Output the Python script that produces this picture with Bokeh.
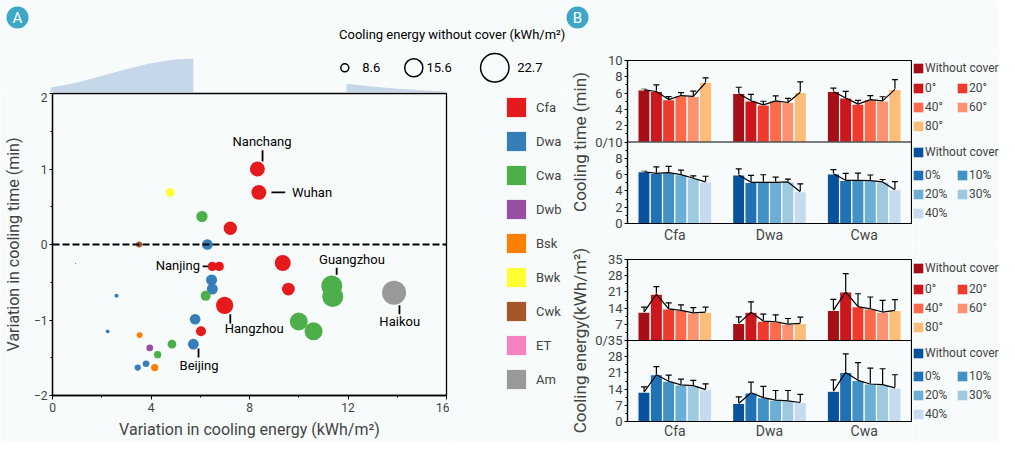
from bokeh.plotting import figure
from bokeh.layouts import row, column
from bokeh.models import (Range1d, Legend, LegendItem, Span, FixedTicker,
                          ColumnDataSource, Whisker, TeeHead)
from bokeh.core.properties import value
from bokeh.embed import file_html
from bokeh.resources import INLINE

BG = "#f7fbfc"
FONT = "Roboto"
BADGE = "#3ea7c6"
NAN = float("nan")

# ---------------- Panel A data ----------------
climates = ["Cfa", "Dwa", "Cwa", "Dwb", "Bsk", "Bwk", "Cwk", "ET", "Am"]
climate_colors = ["#e41a1c", "#377eb8", "#4daf4a", "#984ea3", "#ff7f00",
                  "#ffff33", "#a65628", "#f781bf", "#999999"]

pt_climate = ["Cfa", "Cfa", "Bwk", "Cwa", "Cfa", "Cwk", "Dwa", "Cwk", "Cfa", "Cfa",
              "Cfa", "Cwa", "Cwa", "Am", "Dwa", "Dwa", "Dwa", "Cwa", "Cfa", "Cfa",
              "Dwa", "Cwa", "Cwa", "Cfa", "Dwa", "Bsk", "Dwb", "Cwa", "Cwa", "Dwa",
              "Dwa", "Dwa", "Bsk"]
pt_energy_var = [8.32, 8.38, 4.78, 6.07, 7.22, 3.52, 6.29, 0.94, 6.49, 6.77,
                 9.35, 11.34, 11.38, 13.87, 2.60, 6.46, 6.49, 6.22, 9.58, 6.99,
                 5.79, 10.00, 10.60, 6.03, 2.24, 3.54, 3.95, 4.85, 4.27, 5.72,
                 3.80, 3.46, 4.15]
pt_time_var = [1.00, 0.69, 0.69, 0.37, 0.215, 0.0, 0.0, -0.25, -0.29, -0.29,
               -0.245, -0.55, -0.69, -0.64, -0.68, -0.47, -0.59, -0.68, -0.59, -0.805,
               -0.99, -1.02, -1.15, -1.15, -1.15, -1.20, -1.37, -1.32, -1.46, -1.32,
               -1.58, -1.63, -1.63]
pt_energy_base = [13.4, 13.4, 9.1, 10.9, 12.3, 7.2, 10.5, 3.8, 9.5, 9.5,
                  14.1, 17.6, 17.6, 19.7, 5.9, 10.7, 10.7, 10.0, 11.9, 15.0,
                  10.5, 15.5, 15.5, 10.0, 5.7, 7.2, 7.7, 9.1, 8.1, 10.5,
                  7.7, 7.4, 8.1]

size_legend_values = [8.6, 15.6, 22.7]

dens_left_x = [0, 1, 2, 3, 4, 5, 5.77]
dens_left = [0.05, 0.095, 0.16, 0.23, 0.29, 0.33, 0.337]
dens_right_x = [11.96, 13, 14, 15, 16]
dens_right = [0.087, 0.06, 0.038, 0.022, 0.01]

x_ticks_a = [0, 4, 8, 12, 16]
x_minor_a = [2, 6, 10, 14]
y_ticks_a = [-2, -1, 0, 1, 2]
y_minor_a = [-1.5, -0.5, 0.5, 1.5]

# city annotations (text x, text y, leader x0, y0, x1, y1)
city_names = ["Nanchang", "Wuhan", "Nanjing", "Guangzhou", "Hangzhou", "Haikou", "Beijing"]
city_align = ["center", "left", "right", "center", "center", "center", "center"]
city_tx = [8.51, 9.73, 5.99, 12.16, 8.19, 14.10, 5.95]
city_ty = [1.364, 0.69, -0.277, -0.198, -1.113, -1.026, -1.607]
lead_x0 = [8.53, 8.89, 6.10, 11.54, 7.22, 14.09, 5.93]
lead_y0 = [1.25, 0.69, -0.29, -0.308, -0.924, -0.805, -1.377]
lead_x1 = [8.53, 9.45, 6.49, 11.54, 7.22, 14.09, 5.93]
lead_y1 = [1.10, 0.69, -0.29, -0.40, -1.047, -0.924, -1.496]

# ---------------- Panel B data ----------------
groups = ["Cfa", "Dwa", "Cwa"]
angle_labels = ["Without cover", "0°", "20°", "40°", "60°", "80°"]
cover_labels = ["Without cover", "0%", "10%", "20%", "30%", "40%"]
reds = ["#a50f15", "#cb181d", "#ef3b2c", "#fb6a4a", "#fc9272", "#fbbd78"]
blues = ["#08519c", "#2171b5", "#4292c6", "#6baed6", "#9ecae1", "#c6dbef"]

time_angle = [[6.4, 6.2, 5.2, 5.7, 5.6, 7.3],
              [5.95, 5.05, 4.55, 5.05, 4.85, 6.1],
              [6.2, 5.4, 4.65, 5.2, 5.05, 6.45]]
time_angle_err = [[0.05, 0.8, 0.36, 0.35, 0.65, 0.57],
                  [0.77, 0.8, 0.45, 0.6, 0.5, 1.27],
                  [0.42, 0.8, 0.45, 0.5, 0.5, 1.2]]
time_cover = [[6.35, 6.15, 6.25, 6.0, 5.55, 5.1],
              [5.95, 5.05, 5.05, 5.05, 5.1, 3.9],
              [6.1, 5.3, 5.3, 5.25, 5.1, 4.15]]
time_cover_err = [[0.05, 0.8, 0.75, 0.55, 0.3, 0.7],
                  [0.75, 0.85, 0.93, 0.65, 0.35, 0.97],
                  [0.5, 0.85, 0.87, 0.7, 0.3, 1.0]]
energy_angle = [[12.3, 20.0, 13.7, 13.0, 11.9, 12.3],
                [7.4, 12.2, 8.4, 8.1, 7.1, 7.4],
                [13.0, 21.0, 14.6, 13.7, 12.3, 13.0]]
energy_angle_err = [[2.1, 3.3, 2.6, 2.4, 2.3, 2.1],
                    [2.8, 4.5, 3.0, 3.0, 2.4, 2.7],
                    [4.8, 7.9, 5.6, 5.1, 5.0, 4.7]]
energy_cover = [[12.7, 20.2, 17.4, 15.8, 15.5, 13.8],
                [7.8, 12.4, 10.3, 9.2, 8.9, 8.2],
                [13.1, 21.2, 17.8, 16.2, 15.9, 14.5]]
energy_cover_err = [[2.3, 3.5, 2.6, 2.5, 2.3, 2.5],
                    [2.8, 4.6, 4.9, 4.2, 4.5, 3.5],
                    [4.9, 8.0, 7.6, 6.9, 6.9, 5.7]]


def bubble_size(e):
    return 1.45 * e - 4.5


def style(p):
    p.background_fill_color = BG
    p.border_fill_color = BG
    p.xgrid.visible = False
    p.ygrid.visible = False
    return p


def blank_fig(width, height, top=0, bottom=0):
    p = figure(width=width, height=height, output_backend="svg", toolbar_location=None,
               x_range=Range1d(0, 1), y_range=Range1d(0, 1),
               x_axis_location=None, y_axis_location=None,
               min_border_left=0, min_border_right=0,
               min_border_top=top, min_border_bottom=bottom,
               outline_line_color=None)
    return style(p)


LW, RW = 565, 434
A_LEFT, A_FW, A_TOP, A_FH, A_RIGHT = 50, 396, 1, 303, 3
PXX = A_FW / 16.0

# ---------------- header A ----------------
HA_H = 92
hA = figure(width=LW, height=HA_H, output_backend="svg", toolbar_location=None,
            x_range=Range1d(-A_LEFT / PXX, (LW - A_LEFT) / PXX), y_range=Range1d(0, 0.92),
            x_axis_location=None, y_axis_location=None, min_border=0,
            outline_line_color=None)
style(hA)
hA.extra_x_ranges = {"px": Range1d(0, LW)}
hA.extra_y_ranges = {"px": Range1d(0, HA_H)}
hA.varea(x=dens_left_x, y1=0, y2=dens_left, fill_color="#c6d7ea")
hA.varea(x=dens_right_x, y1=0, y2=dens_right, fill_color="#c6d7ea")
hA.scatter(x=[17], y=[HA_H - 17], size=22, fill_color=BADGE, line_color=None,
           x_range_name="px", y_range_name="px")
hA.text(x=[17], y=[HA_H - 17], text=["A"], text_align="center", text_baseline="middle",
        text_color="white", text_font=value(FONT), text_font_size="15px",
        x_range_name="px", y_range_name="px")
hA.text(x=[451.7], y=[HA_H - 34], text=["Cooling energy without cover (kWh/m²)"],
        text_align="center", text_baseline="middle", text_font=value(FONT),
        text_font_size="13px", x_range_name="px", y_range_name="px")
hA.scatter(x=[344.3, 413.3, 494.3], y=[HA_H - 67.3] * 3,
           size=[bubble_size(v) for v in size_legend_values],
           fill_color=None, line_color="black", line_width=1.5,
           x_range_name="px", y_range_name="px")
hA.text(x=[361.7, 426, 516.7], y=[HA_H - 67.3] * 3, text=[str(v) for v in size_legend_values],
        text_align="left", text_baseline="middle", text_font=value(FONT),
        text_font_size="13px", x_range_name="px", y_range_name="px")

# ---------------- scatter A ----------------
SA_H = 441 - HA_H
SA_W = A_LEFT + A_FW + A_RIGHT
SA_BOTTOM = SA_H - A_TOP - A_FH
pA = figure(width=SA_W, height=SA_H, output_backend="svg", toolbar_location=None,
            x_range=Range1d(0, 16), y_range=Range1d(-2, 2),
            min_border_left=A_LEFT, min_border_right=A_RIGHT,
            min_border_top=A_TOP, min_border_bottom=SA_BOTTOM)
style(pA)
pA.outline_line_color = "black"
pA.outline_line_width = 1.3
for ax in (pA.xaxis[0], pA.yaxis[0]):
    ax.axis_line_width = 1.3
    ax.axis_line_color = "black"
    ax.major_tick_line_color = "black"
    ax.minor_tick_line_color = "black"
    ax.major_tick_in = 0
    ax.major_tick_out = 4
    ax.minor_tick_in = 0
    ax.minor_tick_out = 2
    ax.major_label_text_font = FONT
    ax.major_label_text_font_size = "12px"
    ax.axis_label_text_font = FONT
    ax.axis_label_text_font_size = "16px"
    ax.axis_label_text_font_style = "normal"
pA.xaxis.ticker = FixedTicker(ticks=x_ticks_a, minor_ticks=x_minor_a)
pA.yaxis.ticker = FixedTicker(ticks=y_ticks_a, minor_ticks=y_minor_a)
pA.xaxis.axis_label = "Variation in cooling energy (kWh/m²)"
pA.yaxis.axis_label = "Variation in cooling time (min)"
pA.xaxis.major_label_standoff = 3
pA.xaxis.axis_label_standoff = 5
pA.yaxis.major_tick_out = 3
pA.yaxis.major_label_standoff = 2
pA.yaxis.axis_label_standoff = 8

pA.add_layout(Span(location=0, dimension="width", line_color="black",
                   line_width=1.8, line_dash="7 3"))
pA.segment(x0=lead_x0, y0=lead_y0, x1=lead_x1, y1=lead_y1,
           line_color="black", line_width=1.8)

pt_colors = [climate_colors[climates.index(c)] for c in pt_climate]
srcA = ColumnDataSource(dict(x=pt_energy_var, y=pt_time_var,
                             s=[bubble_size(e) for e in pt_energy_base], c=pt_colors))
pA.scatter(x="x", y="y", size="s", fill_color="c", line_color=None, source=srcA)

for al in ("center", "left", "right"):
    idx = [i for i, a in enumerate(city_align) if a == al]
    pA.text(x=[city_tx[i] for i in idx], y=[city_ty[i] for i in idx],
            text=[city_names[i] for i in idx], text_align=al, text_baseline="middle",
            text_font=value(FONT), text_font_size="13px", text_color="black")

# climate legend, in its own figure beside the scatter
legA_fig = blank_fig(LW - SA_W, SA_H, top=A_TOP, bottom=SA_BOTTOM)
leg_items = []
for c, col in zip(climates, climate_colors):
    r = legA_fig.quad(left=[NAN], right=[NAN], top=[NAN], bottom=[NAN],
                      fill_color=col, line_color=None)
    leg_items.append(LegendItem(label=c, renderers=[r]))
legA = Legend(items=leg_items, location=(504 - SA_W, 4), glyph_width=24, glyph_height=24,
              label_height=24, spacing=10, padding=0, margin=0, label_standoff=8,
              label_text_font=FONT, label_text_font_size="13px",
              border_line_color=None, background_fill_alpha=0)
legA_fig.add_layout(legA)

# ---------------- header B ----------------
HB_H = 52
hB = figure(width=RW, height=HB_H, output_backend="svg", toolbar_location=None,
            x_range=Range1d(0, RW), y_range=Range1d(0, HB_H),
            x_axis_location=None, y_axis_location=None, min_border=0,
            outline_line_color=None)
style(hB)
hB.scatter(x=[577 - LW], y=[HB_H - 17], size=22, fill_color=BADGE, line_color=None)
hB.text(x=[577 - LW], y=[HB_H - 17], text=["B"], text_align="center", text_baseline="middle",
        text_color="white", text_font=value(FONT), text_font_size="15px")

# ---------------- Panel B pair figures ----------------
B_LEFT, B_FW, B_RIGHT = 62, 284, 1
PB_W = B_LEFT + B_FW + B_RIGHT
PITCH = 0.13


def make_pair(height, top_border, frame_h, offset, top_vals, top_err, bot_vals, bot_err,
              top_labels, bot_labels, ylabel, x_standoff, leg_y):
    bottom_border = height - top_border - frame_h
    p = figure(width=PB_W, height=height, output_backend="svg", toolbar_location=None,
               x_range=Range1d(0, 3), y_range=Range1d(0, 2 * offset),
               min_border_left=B_LEFT, min_border_right=B_RIGHT,
               min_border_top=top_border, min_border_bottom=bottom_border)
    style(p)
    p.outline_line_color = "black"
    p.outline_line_width = 1.2

    step = offset / 5
    ticks = [i * step for i in range(11)]
    overrides = {}
    for t in ticks:
        if t < offset:
            overrides[t] = str(int(round(t)))
        elif t == offset:
            overrides[t] = "0/%d" % offset
        else:
            overrides[t] = str(int(round(t - offset)))
    p.yaxis.ticker = FixedTicker(ticks=ticks, minor_ticks=[step / 2 + i * step for i in range(10)])
    p.yaxis.major_label_overrides = overrides
    p.yaxis.axis_label = ylabel
    p.xaxis.ticker = FixedTicker(ticks=[g + 0.5 for g in range(3)])
    p.xaxis.major_label_overrides = {g + 0.5: groups[g] for g in range(3)}
    for ax in (p.xaxis[0], p.yaxis[0]):
        ax.axis_line_color = "black"
        ax.axis_line_width = 1.2
        ax.major_label_text_font = FONT
        ax.axis_label_text_font = FONT
        ax.axis_label_text_font_style = "normal"
    p.yaxis.major_label_text_font_size = "13px"
    p.yaxis.axis_label_text_font_size = "17px"
    p.yaxis.major_tick_in = 0
    p.yaxis.major_tick_out = 3
    p.yaxis.minor_tick_in = 0
    p.yaxis.minor_tick_out = 2
    p.yaxis.major_label_standoff = 2
    p.yaxis.axis_label_standoff = 2
    p.xaxis.major_tick_in = 0
    p.xaxis.major_tick_out = 0
    p.xaxis.minor_tick_in = 0
    p.xaxis.minor_tick_out = 0
    p.xaxis.major_tick_line_color = None
    p.xaxis.minor_tick_line_color = None
    p.xaxis.major_label_text_font_size = "14px"
    p.xaxis.major_label_standoff = x_standoff

    p.add_layout(Span(location=offset, dimension="width", line_color="black", line_width=1.2))

    lf = blank_fig(RW - PB_W, height, top=top_border, bottom=bottom_border)
    legends = []
    for vals, errs, base, cols, labels in ((top_vals, top_err, offset, reds, top_labels),
                                           (bot_vals, bot_err, 0, blues, bot_labels)):
        for j in range(6):
            xs = [g + 0.5 + (j - 2.5) * PITCH for g in range(3)]
            tops = [base + vals[g][j] for g in range(3)]
            p.vbar(x=xs, width=PITCH, bottom=base, top=tops,
                   fill_color=cols[j], line_color=BG, line_width=1.2)
        mxs = [[g + 0.5 + (j - 2.5) * PITCH for j in range(6)] for g in range(3)]
        mys = [[base + vals[g][j] for j in range(6)] for g in range(3)]
        p.multi_line(xs=mxs, ys=mys, line_color="black", line_width=1.2)
        wx, wu, wl = [], [], []
        for g in range(3):
            for j in range(6):
                wx.append(g + 0.5 + (j - 2.5) * PITCH)
                wu.append(base + vals[g][j] + errs[g][j])
                wl.append(base + vals[g][j] - errs[g][j])
        wsrc = ColumnDataSource(dict(x=wx, upper=wu, lower=wl))
        p.add_layout(Whisker(source=wsrc, base="x", upper="upper", lower="lower",
                             dimension="height", line_color="black", line_width=1.2,
                             upper_head=TeeHead(size=6, line_width=1.2, line_color="black"),
                             lower_head=TeeHead(size=6, line_width=1.2, line_color="black")))
        dummies = [lf.quad(left=[NAN], right=[NAN], top=[NAN], bottom=[NAN],
                           fill_color=cols[j], line_color=None) for j in range(6)]
        legends.append([LegendItem(label=labels[0], renderers=[dummies[0]])])
        legends.append([LegendItem(label=labels[j], renderers=[dummies[j]]) for j in range(1, 6)])

    for k, items in enumerate(legends):
        kw = {}
        if len(items) > 1:
            kw = dict(orientation="horizontal", ncols=2)
        lg = Legend(items=items, location=(0, leg_y[k]), glyph_width=12,
                    glyph_height=12, label_height=12, label_width=26, spacing=5,
                    padding=0, margin=0, label_standoff=1,
                    label_text_font=FONT, label_text_font_size="12px",
                    border_line_color=None, background_fill_alpha=0, **kw)
        lf.add_layout(lg)
    return p, lf


p1, l1 = make_pair(193, 8, 165, 10, time_angle, time_angle_err, time_cover, time_cover_err,
                   angle_labels, cover_labels, "Cooling time (min)", 3,
                   [148.5, 90.0, 64.5, 3.0])
p2, l2 = make_pair(441 - HB_H - 193, 14, 164, 35, energy_angle, energy_angle_err,
                   energy_cover, energy_cover_err,
                   angle_labels, cover_labels, "Cooling energy(kWh/m²)", 1,
                   [145.8, 87.0, 61.5, 0.0])

left = column(row(hA), row(pA, legA_fig))
right = column(row(hB), row(p1, l1), row(p2, l2))
layout = row(left, right)

open("out.html", "w").write(file_html(layout, INLINE))
